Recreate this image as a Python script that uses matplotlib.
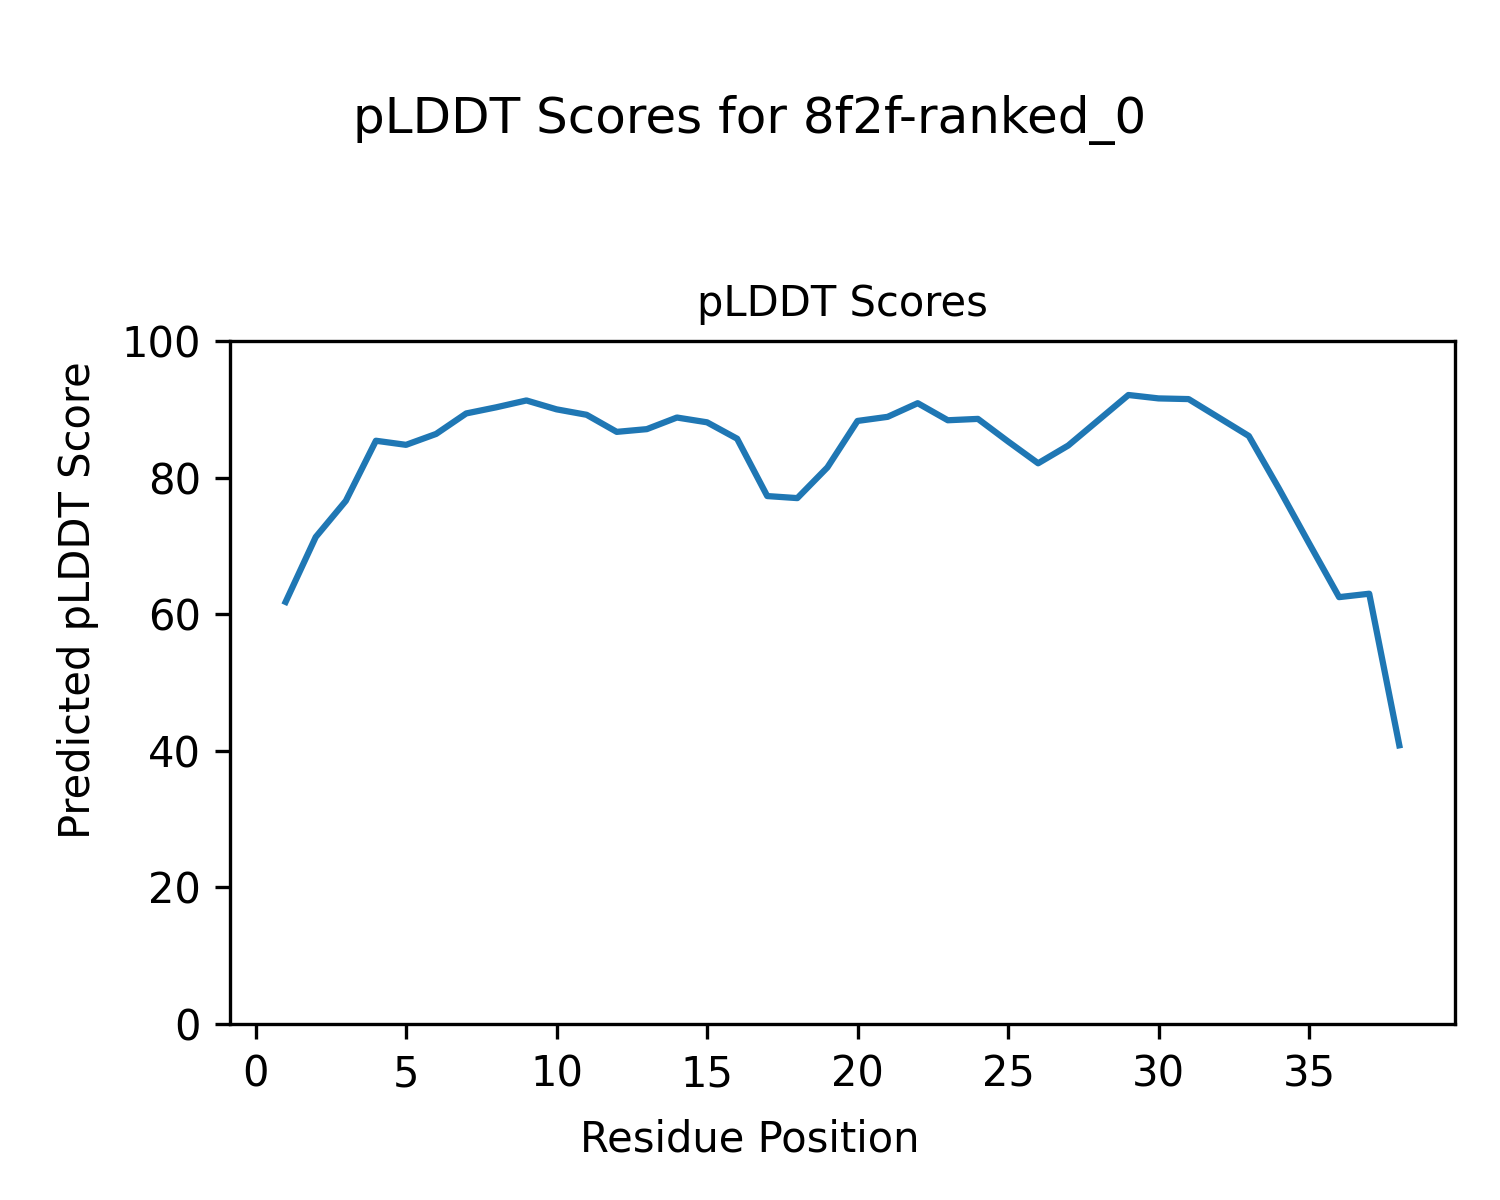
import matplotlib
matplotlib.use("Agg")
import matplotlib.pyplot as plt
import numpy as np

# residue positions and predicted pLDDT
residues = list(range(1, 39))
plddt = [61.8, 71.3, 76.6, 85.4, 84.8, 86.4, 89.4, 90.3, 91.3, 90.0,
         89.2, 86.7, 87.1, 88.8, 88.1, 85.7, 77.3, 77.0, 81.5, 88.3,
         88.9, 90.9, 88.4, 88.6, 85.3, 82.1, 84.7, 88.4, 92.1, 91.6,
         91.5, 88.8, 86.1, 78.4, 70.4, 62.5, 63.0, 40.8]

model_name = "8f2f-ranked_0"

fig = plt.figure(figsize=(5, 4), dpi=300)
ax = fig.add_axes([0.1533, 0.1467, 0.97 - 0.1533, 0.7158 - 0.1467])

ax.plot(residues, plddt, color="#1f77b4", linewidth=1.5)
ax.set_ylim(0, 100)
ax.set_title("pLDDT Scores", fontsize=10)
ax.tick_params(labelsize=10)

fig.text(0.5, 0.889, f"pLDDT Scores for {model_name}", ha="center",
         va="baseline", fontsize=12)
fig.text(0.5, 0.04, "Residue Position", ha="center", va="baseline",
         fontsize=10)
fig.text(0.052, 0.5, "Predicted pLDDT Score", ha="center", va="center",
         rotation=90, fontsize=10)

fig.savefig("out.png", dpi=300)
